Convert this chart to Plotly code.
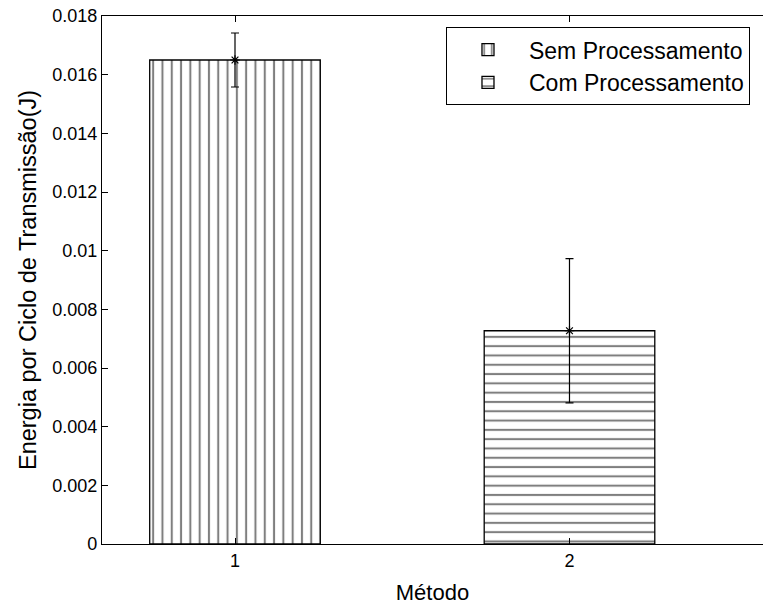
import plotly.graph_objects as go

metodos = [1, 2]
series_names = ["Sem Processamento", "Com Processamento"]
energia = [0.0165, 0.00727]
erro = [0.00092, 0.00246]
y_ticks = [0, 0.002, 0.004, 0.006, 0.008, 0.01, 0.012, 0.014, 0.016, 0.018]
y_tick_labels = ["0", "0.002", "0.004", "0.006", "0.008", "0.01", "0.012", "0.014", "0.016", "0.018"]
x_ticks = [1, 2]
x_tick_labels = ["1", "2"]

FONT = "Liberation Sans, Arial, sans-serif"
shapes = ["|", "-"]

fig = go.Figure()
for i, name in enumerate(series_names):
    fig.add_trace(go.Bar(
        x=[metodos[i]], y=[energia[i]], name=name, width=0.51,
        marker=dict(color="white", line=dict(color="black", width=1.3),
                    pattern=dict(shape=shapes[i], size=9.3, solidity=0.22,
                                 fgcolor="black", bgcolor="white", fillmode="overlay")),
    ))

fig.add_trace(go.Scatter(
    x=metodos, y=energia, mode="markers", showlegend=False,
    marker=dict(symbol="asterisk-open", size=8, color="black", line=dict(color="black", width=1.2)),
    error_y=dict(type="data", array=erro, symmetric=True, color="black", thickness=1.2, width=4),
))

fig.update_layout(
    width=763, height=608,
    margin=dict(l=102, r=0, t=16, b=64),
    paper_bgcolor="white", plot_bgcolor="white",
    font=dict(family=FONT, color="black", size=18),
    barmode="overlay",
    legend=dict(x=0.5204, y=0.979, xanchor="left", yanchor="top",
                bordercolor="black", borderwidth=1, bgcolor="white",
                font=dict(size=23, family=FONT), itemwidth=72,
                tracegroupgap=0),
)
fig.update_xaxes(
    range=[0.6024, 2.5785], tickvals=x_ticks, ticktext=x_tick_labels,
    showline=True, linecolor="black", linewidth=1.3, mirror="ticks",
    ticks="inside", ticklen=6, tickcolor="black", showgrid=False, zeroline=False,
    title=dict(text="Método", font=dict(size=22, family=FONT), standoff=14),
    tickfont=dict(size=18),
)
fig.update_yaxes(
    range=[0, 0.018], tickvals=y_ticks, ticktext=y_tick_labels,
    showline=True, linecolor="black", linewidth=1.3, mirror=False,
    ticks="inside", ticklen=6, tickcolor="black", showgrid=False, zeroline=False,
    title=dict(text="Energia por Ciclo de Transmissão(J)", font=dict(size=23.5, family=FONT), standoff=8),
    tickfont=dict(size=18),
)

fig.write_html("out.html")
